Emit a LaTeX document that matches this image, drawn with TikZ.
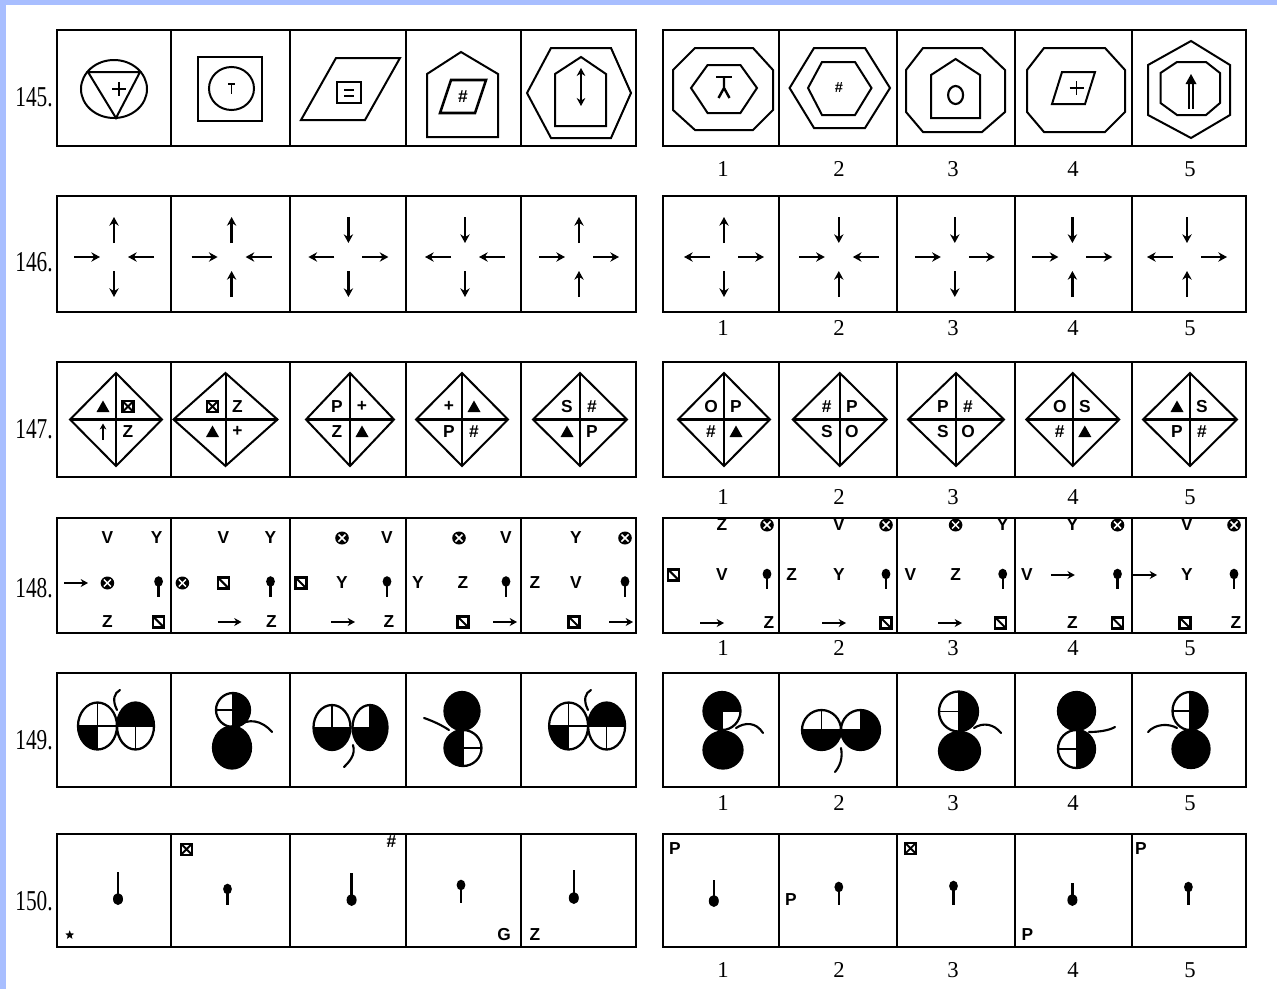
\documentclass[tikz,border=0pt]{standalone}
\usepackage{graphicx}
\usepackage{fontspec}
\setmainfont{Liberation Serif}
\setsansfont{Liberation Sans}
\usetikzlibrary{arrows.meta,shapes.geometric}
\definecolor{bluefr}{RGB}{168,190,255}
\newcounter{tn}
\tikzset{
 frm/.style={line width=1.9pt},
 dvd/.style={line width=1.5pt},
 shp/.style={line width=1.5pt, line join=miter},
 thk/.style={line width=2pt, line join=miter},
 sym/.style={font=\sffamily\bfseries\fontsize{13}{13}\selectfont, inner sep=0pt},
 smsym/.style={font=\sffamily\bfseries\fontsize{11}{11}\selectfont, inner sep=0pt},
 numtxt/.style={font=\fontsize{17}{17}\selectfont, inner sep=0pt},
 rowlbl/.style={font=\fontsize{16}{16}\selectfont, inner sep=0pt, anchor=east},
 arr/.style={line width=1.7pt, -{Stealth[length=6.5pt,width=7pt]}},
 sarr/.style={line width=1.5pt, -{Stealth[length=5.5pt,width=6pt]}},
 stemline/.style={line width=1.6pt, line cap=round},
 pinline/.style={line width=1.8pt},
}
\newcommand{\ltr}[3]{\stepcounter{tn}\node[sym] (t\arabic{tn}) at (#2,#3) {#1};}
\newcommand{\tri}[2]{\fill (#1,#2-6) -- (#1+6.5,#2+5.5) -- (#1-6.5,#2+5.5) -- cycle;}
\newcommand{\bxs}[2]{\draw[line width=1.7pt] (#1-5.5,#2-5.5) rectangle (#1+5.5,#2+5.5);
 \draw[line width=1.4pt] (#1-5.5,#2-5.5) -- (#1+5.5,#2+5.5) (#1-5.5,#2+5.5) -- (#1+5.5,#2-5.5);}
\newcommand{\upar}[2]{\draw[line width=1.4pt,-{Stealth[length=4.5pt,width=5pt]}] (#1,#2+8) -- (#1,#2-8);}
\newcommand{\cxs}[2]{\fill (#1,#2) ellipse [x radius=6.8, y radius=6.5];
 \draw[white,line width=1.1pt] (#1-3.5,#2-3.5) -- (#1+3.5,#2+3.5) (#1-3.5,#2+3.5) -- (#1+3.5,#2-3.5);}
\newcommand{\sqd}[2]{\draw[line width=1.9pt, fill=white] (#1-5.5,#2-5.5) rectangle (#1+5.5,#2+5.5);
 \draw[line width=1.5pt] (#1-5.5,#2-5.5) -- (#1+5.5,#2+5.5);}
\newcommand{\rar}[2]{\draw[sarr] (#1-12,#2) -- (#1+12,#2);}
\newcommand{\pinu}[3]{\fill (#1,#2) ellipse [x radius=4.4, y radius=5.3]; \draw[pinline] (#1,#2) -- (#1,#2+#3);}
\newcommand{\pind}[3]{\fill (#1,#2) ellipse [x radius=5, y radius=6]; \draw[pinline] (#1,#2) -- (#1,#2-#3);}
\newcommand{\crs}[6]{%
 \if u#3\draw[arr] (#1,#2-14) -- (#1,#2-40);\else\draw[arr] (#1,#2-40) -- (#1,#2-14);\fi
 \if r#4\draw[arr] (#1-40,#2) -- (#1-14,#2);\else\draw[arr] (#1-14,#2) -- (#1-40,#2);\fi
 \if r#5\draw[arr] (#1+14,#2) -- (#1+40,#2);\else\draw[arr] (#1+40,#2) -- (#1+14,#2);\fi
 \if u#6\draw[arr] (#1,#2+40) -- (#1,#2+14);\else\draw[arr] (#1,#2+14) -- (#1,#2+40);\fi}
\newcommand{\dmd}[7]{%
 \draw[shp] (#1,#2-46.5) -- (#1+#3,#2) -- (#1,#2+46.5) -- (#1-#3,#2) -- cycle;
 \draw[shp] (#1,#2-46.5) -- (#1,#2+46.5);
 \draw[line width=1.9pt] (#1-#3,#2) -- (#1+#3,#2);
 #4{#1-13}{#2-13}#5{#1+12}{#2-13}#6{#1-13}{#2+12}#7{#1+12}{#2+12}}
\newcommand{\qc}[8]{%
 \begin{scope}
 \clip (#1,#2) ellipse [x radius=#3, y radius=#4];
 \fill[#5] (#1,#2) rectangle (#1-#3,#2-#4);
 \fill[#6] (#1,#2) rectangle (#1+#3,#2-#4);
 \fill[#7] (#1,#2) rectangle (#1-#3,#2+#4);
 \fill[#8] (#1,#2) rectangle (#1+#3,#2+#4);
 \draw[line width=1.3pt] (#1-#3,#2) -- (#1+#3,#2) (#1,#2-#4) -- (#1,#2+#4);
 \end{scope}
 \draw[line width=1.7pt] (#1,#2) ellipse [x radius=#3, y radius=#4];}
\newcommand{\panelrow}[2]{%
 \draw[frm] (57,#1) rectangle (636,#2);
 \foreach \d in {171.3,289.8,405.7,520.5} \draw[dvd] (\d,#1) -- (\d,#2);
 \draw[frm] (663,#1) rectangle (1246,#2);
 \foreach \d in {779.3,896.5,1015,1131.8} \draw[dvd] (\d,#1) -- (\d,#2);}
\begin{document}
\begin{tikzpicture}[x=0.75pt,y=-0.75pt]
\useasboundingbox (0,0) rectangle (1277,989);
\fill[white] (0,0) rectangle (1277,989);
\fill[bluefr] (0,0) rectangle (1277,5);
\fill[bluefr] (0,0) rectangle (5.5,989);

% frames
\panelrow{30}{146}
\panelrow{196}{312}
\panelrow{362}{477}
\panelrow{518}{633}
\panelrow{673}{787}
\panelrow{834}{947}

% row labels
\node[rowlbl] (lbl145) at (53,97) {\scalebox{1}[1.35]{145.}};
\node[rowlbl] (lbl146) at (53,262) {\scalebox{1}[1.35]{146.}};
\node[rowlbl] (lbl147) at (53,429) {\scalebox{1}[1.35]{147.}};
\node[rowlbl] (lbl148) at (53,588) {\scalebox{1}[1.35]{148.}};
\node[rowlbl] (lbl149) at (53,740) {\scalebox{1}[1.35]{149.}};
\node[rowlbl] (lbl150) at (53,901) {\scalebox{1}[1.35]{150.}};

% answer numbers
\foreach \r/\yy in {145/169,146/328,147/497,148/648,149/803,150/970}
 \foreach \xx/\k in {723/1,839/2,953/3,1073/4,1190/5}
  \node[numtxt] (n\r-\k) at (\xx,\yy) {\k};

% ===== row 145 =====
\draw[shp] (114,89) ellipse [x radius=33, y radius=29];
\draw[shp] (88,72) -- (140,72) -- (116,118) -- cycle;
\draw[line width=1.3pt] (112,89) -- (126,89) (119,82) -- (119,96);
\draw[thk] (198,57) rectangle (262,121);
\draw[shp] (231.5,88.5) ellipse [x radius=22.5, y radius=21.5];
\draw[line width=1.7pt] (228,84) -- (235,84);
\draw[line width=1.4pt] (231.5,84) -- (231.5,94);
\draw[shp] (336,58) -- (400,58) -- (365,120) -- (301,120) -- cycle;
\draw[line width=1.9pt] (337,82) rectangle (361,103);
\draw[line width=1.5pt] (344,89.5) -- (354,89.5) (344,95.5) -- (354,95.5);
\draw[shp] (461,52) -- (498,74) -- (498,137) -- (427,137) -- (427,74) -- cycle;
\draw[line width=1.9pt] (451,80) -- (486,80) -- (475,113) -- (440,113) -- cycle;
\node[sym] (h145a) at (463,97) {\#};
\draw[shp] (527,93) -- (551,48) -- (611,48) -- (631,93) -- (611,138) -- (551,138) -- cycle;
\draw[shp] (581,57) -- (606,74) -- (606,126) -- (555,126) -- (555,74) -- cycle;
\draw[line width=1.6pt,{Stealth[length=6pt,width=6.5pt]}-{Stealth[length=6pt,width=6.5pt]}] (581,68) -- (581,106);
% right
\draw[shp] (695,48) -- (753,48) -- (773,70) -- (773,110) -- (753,130) -- (695,130) -- (673,110) -- (673,70) -- cycle;
\draw[shp] (691,88) -- (707.6,65) -- (740.4,65) -- (757,88) -- (740.4,113) -- (707.6,113) -- cycle;
\draw[line width=2pt] (716,77) -- (732,77);
\draw[line width=1.8pt] (724,77) -- (724,88) -- (718.5,98) (724,88) -- (729.5,98);
\draw[shp] (789.6,88) -- (814,48) -- (865,48) -- (890,88) -- (865,128) -- (814,128) -- cycle;
\draw[shp] (808,88) -- (822,62) -- (855,62) -- (871.5,88) -- (855,115) -- (822,115) -- cycle;
\draw[line width=2.2pt] (822,62) -- (855,62);
\node[smsym] (h145b) at (839,88) {\#};
\draw[shp] (923,48) -- (982,48) -- (1005,70) -- (1005,112) -- (982,132) -- (923,132) -- (906,112) -- (906,70) -- cycle;
\draw[shp] (955.6,59) -- (980,75) -- (980,118) -- (931,118) -- (931,75) -- cycle;
\draw[line width=1.6pt] (955.6,95) ellipse [x radius=7.5, y radius=9];
\draw[shp] (1044,48) -- (1105,48) -- (1125,70) -- (1125,112) -- (1105,132) -- (1044,132) -- (1027,112) -- (1027,70) -- cycle;
\draw[line width=2.2pt] (1044,132) -- (1105,132);
\draw[shp] (1062,72) -- (1095,72) -- (1085,104) -- (1052,104) -- cycle;
\draw[line width=2.2pt] (1062,72) -- (1095,72);
\draw[line width=1.3pt] (1069.5,88) -- (1083.5,88) (1076.5,81) -- (1076.5,95);
\draw[shp] (1191,41) -- (1230,65) -- (1230,115) -- (1191,138) -- (1148,115) -- (1148,65) -- cycle;
\draw[shp] (1177,62) -- (1206,62) -- (1220,73) -- (1220,103) -- (1206,115) -- (1177,115) -- (1160.5,103) -- (1160.5,73) -- cycle;
\draw[line width=2.2pt] (1177,62) -- (1206,62);
\fill (1191,74) -- (1196.5,84) -- (1185.5,84) -- cycle;
\draw[line width=1.2pt] (1188.8,83) -- (1188.8,109) (1193.2,83) -- (1193.2,109);

% ===== row 146 =====
\crs{114}{257}{u}{r}{l}{d}
\crs{231.6}{257}{u}{r}{l}{u}
\crs{348.4}{257}{d}{l}{r}{d}
\crs{465}{257}{d}{l}{l}{d}
\crs{579}{257}{u}{r}{r}{u}
\crs{724}{257}{u}{l}{r}{d}
\crs{838.8}{257}{d}{r}{l}{u}
\crs{954.8}{257}{d}{r}{r}{d}
\crs{1072.4}{257}{d}{r}{r}{u}
\crs{1187}{257}{d}{l}{r}{u}

% ===== row 147 =====
\dmd{116}{419.5}{46}{\tri}{\bxs}{\upar}{\ltr{Z}}
\dmd{225.5}{419.5}{52}{\bxs}{\ltr{Z}}{\tri}{\ltr{+}}
\dmd{350}{419.5}{44}{\ltr{P}}{\ltr{+}}{\ltr{Z}}{\tri}
\dmd{462}{419.5}{46}{\ltr{+}}{\tri}{\ltr{P}}{\ltr{\#}}
\dmd{580}{419.5}{47}{\ltr{S}}{\ltr{\#}}{\tri}{\ltr{P}}
\dmd{724}{419.5}{46}{\ltr{O}}{\ltr{P}}{\ltr{\#}}{\tri}
\dmd{839.8}{419.5}{47}{\ltr{\#}}{\ltr{P}}{\ltr{S}}{\ltr{O}}
\dmd{956}{419.5}{48}{\ltr{P}}{\ltr{\#}}{\ltr{S}}{\ltr{O}}
\dmd{1072.8}{419.5}{46.5}{\ltr{O}}{\ltr{S}}{\ltr{\#}}{\tri}
\dmd{1190}{419.5}{47}{\tri}{\ltr{S}}{\ltr{P}}{\ltr{\#}}

% ===== row 148 =====
% left panel
\ltr{V}{107.4}{538} \ltr{Y}{156.6}{538}
\rar{76}{583} \cxs{107.4}{583} \pinu{158.6}{581.5}{15.5}
\ltr{Z}{107.4}{622} \sqd{158.6}{622}
\ltr{V}{223.4}{538} \ltr{Y}{270.5}{538}
\cxs{182.4}{583} \sqd{223.4}{583} \pinu{270.5}{581.5}{15.5}
\rar{229.5}{622} \ltr{Z}{271.3}{622}
\cxs{342}{538} \ltr{V}{387}{538}
\sqd{301}{583} \ltr{Y}{342}{583} \pinu{387}{581.5}{15.5}
\rar{343}{622} \ltr{Z}{389}{622}
\cxs{459}{538} \ltr{V}{506}{538}
\ltr{Y}{418}{583} \ltr{Z}{463}{583} \pinu{506}{581.5}{15.5}
\sqd{463}{622} \rar{505}{622}
\ltr{Y}{576}{538} \cxs{625}{538}
\ltr{Z}{535}{583} \ltr{V}{576}{583} \pinu{625}{581.5}{15.5}
\sqd{574}{622} \rar{621}{622}
% right panel
\ltr{Z}{722}{525} \cxs{767}{525}
\sqd{673.6}{575} \ltr{V}{722}{575} \pinu{767}{574}{15}
\rar{712}{623} \ltr{Z}{769}{623}
\ltr{V}{838.8}{525} \cxs{886}{525}
\ltr{Z}{791.6}{575} \ltr{Y}{838.8}{575} \pinu{886}{574}{15}
\rar{834}{623} \sqd{886}{623}
\cxs{955.6}{525} \ltr{Y}{1002.7}{525}
\ltr{V}{910.5}{575} \ltr{Z}{955.6}{575} \pinu{1002.7}{574}{15}
\rar{950}{623} \sqd{1000.7}{623}
\ltr{Y}{1072.5}{525} \cxs{1117.5}{525}
\ltr{V}{1027}{575} \rar{1062.8}{575} \pinu{1117.5}{574}{15}
\ltr{Z}{1072.5}{623} \sqd{1117.5}{623}
\ltr{V}{1187}{525} \cxs{1234}{525}
\rar{1145}{575} \ltr{Y}{1187}{575} \pinu{1234}{574}{15}
\sqd{1185}{623} \ltr{Z}{1236}{623}

% ===== row 149 =====
\qc{97.5}{726}{19.5}{23.5}{white}{white}{black}{white}
\qc{135.5}{726}{18.5}{23.5}{black}{black}{white}{white}
\draw[stemline] (117,710) .. controls (112,700) and (114,693) .. (120,690);
\qc{233}{710}{17}{17}{white}{black}{white}{black}
\qc{232}{747.5}{19}{21}{black}{black}{black}{black}
\draw[stemline] (238,726) .. controls (248,718) and (262,720) .. (272,732);
\qc{332}{727.5}{18.5}{22.5}{white}{white}{black}{black}
\qc{370}{727.5}{17.5}{22.5}{white}{black}{black}{black}
\draw[stemline] (353,745) .. controls (356,755) and (349,762) .. (344,767);
\qc{462}{711}{17.5}{19}{black}{black}{black}{black}
\qc{463}{748}{18.5}{18}{black}{white}{black}{white}
\draw[stemline] (449,730) .. controls (440,724) and (430,720) .. (424,718);
\qc{568.6}{726}{19.5}{23.5}{white}{white}{black}{white}
\qc{606.6}{726}{18.5}{23.5}{black}{black}{white}{white}
\draw[stemline] (588,710) .. controls (583,700) and (585,693) .. (591,690);
\qc{722}{711}{18.5}{19}{black}{black}{black}{white}
\qc{723}{750}{19.5}{18.5}{black}{black}{black}{black}
\draw[stemline] (736,728) .. controls (745,722) and (756,722) .. (763,733);
\qc{821.5}{730}{19.5}{20}{white}{white}{black}{black}
\qc{860.5}{730}{19.5}{20}{white}{black}{black}{black}
\draw[stemline] (841,748) .. controls (843,758) and (840,766) .. (835,772);
\qc{958.5}{711.5}{19.5}{20}{white}{black}{white}{black}
\qc{959.5}{751}{20.5}{19}{black}{black}{black}{black}
\draw[stemline] (974,728) .. controls (983,722) and (994,724) .. (1001,733);
\qc{1076.5}{711}{18.5}{19}{black}{black}{black}{black}
\qc{1076.5}{749}{18.5}{19}{white}{black}{white}{black}
\draw[stemline] (1089,732) .. controls (1100,732) and (1110,730) .. (1115,727);
\qc{1190}{711}{17.5}{19}{white}{black}{white}{black}
\qc{1191}{749}{18.5}{19}{black}{black}{black}{black}
\draw[stemline] (1177,728) .. controls (1168,723) and (1155,724) .. (1148,732);

% ===== row 150 =====
\pind{118}{899}{27}
\node[star, star points=5, star point ratio=2.3, fill, inner sep=0pt, minimum size=7pt] (star150) at (69.7,935) {};
\pinu{227.5}{889}{16}
\bxs{186.5}{849.3}
\pind{351.6}{900}{27}
\ltr{\#}{391.4}{842}
\pinu{461}{885}{18}
\ltr{G}{504}{935}
\pind{573.8}{898}{28}
\ltr{Z}{534.8}{935}
\ltr{P}{674.8}{848.3}
\pind{713.8}{901}{21}
\ltr{P}{790.8}{900}
\pinu{838.8}{887}{18}
\bxs{910.5}{848.3}
\pinu{953.5}{886}{19}
\ltr{P}{1027.3}{935}
\pind{1072.4}{900}{17}
\ltr{P}{1140.8}{848.3}
\pinu{1188.4}{887}{18}
\end{tikzpicture}
\end{document}
